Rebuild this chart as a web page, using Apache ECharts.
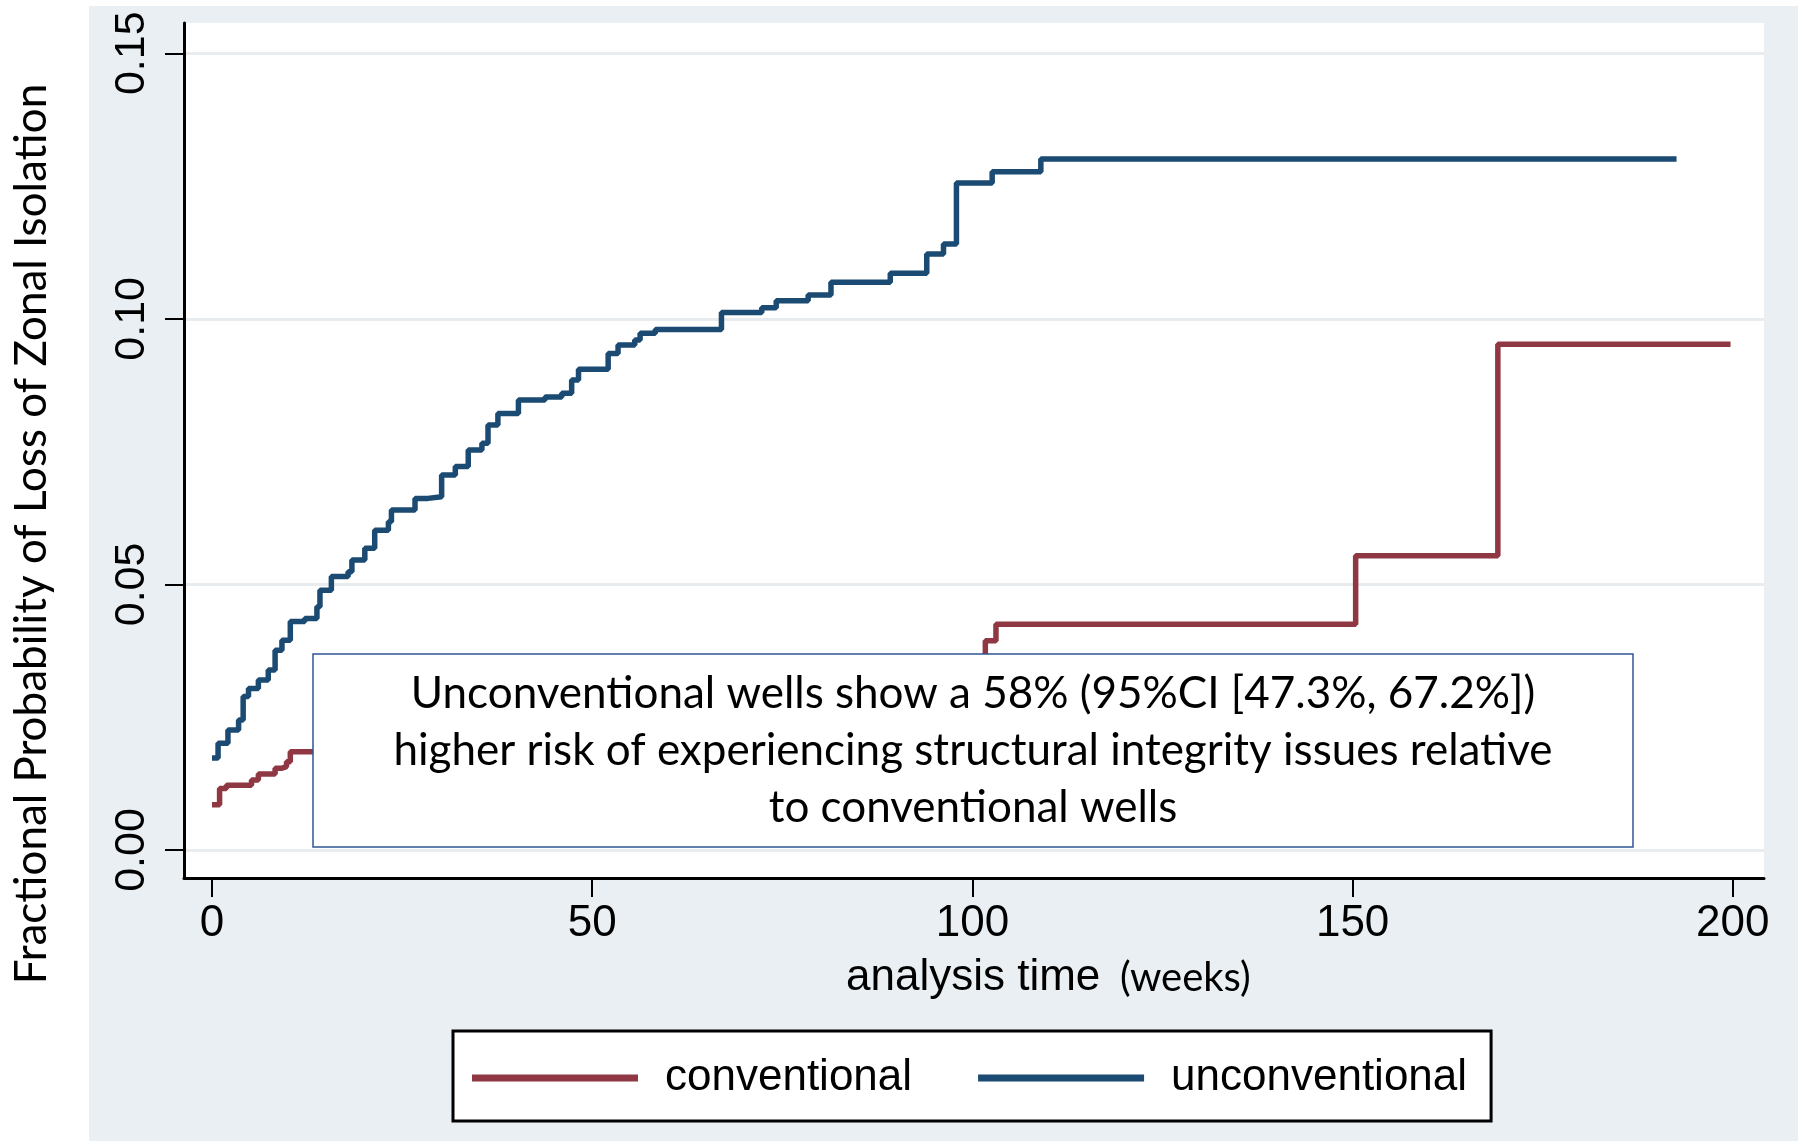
<!DOCTYPE html>
<html><head><meta charset="utf-8">
<script src="https://cdn.jsdelivr.net/npm/echarts@6/dist/echarts.min.js"></script>
<style>html,body{margin:0;padding:0;background:#fff}#c{width:1798px;height:1141px}</style>
</head><body><div id="c"></div>
<script>
const seriesNames = ['conventional', 'unconventional'];
const xTickValues = [0, 50, 100, 150, 200];
const yTickValues = [0, 0.05, 0.10, 0.15];
// [analysis time (weeks), failure probability from that time on]
const conventional = [
  [0, 0.0085], [1.0, 0.0116], [1.9, 0.0122], [5.2, 0.0132], [6.1, 0.0143], [8.3, 0.0154],
  [9.2, 0.0157], [9.8, 0.0166], [10.3, 0.0185], [101.7, 0.0394], [103.1, 0.0425],
  [150.4, 0.0554], [169.1, 0.0952], [199.7, 0.0952]
];
const unconventional = [
  [0, 0.0173], [0.8, 0.0201], [2.1, 0.0226], [3.5, 0.0245], [4.1, 0.0289], [4.8, 0.0304],
  [6.1, 0.0320], [7.4, 0.0339], [8.3, 0.0376], [9.2, 0.0395], [10.3, 0.0430], [12.2, 0.0436],
  [13.8, 0.0458], [14.2, 0.0489], [15.7, 0.0515], [17.9, 0.0524], [18.4, 0.0546], [20.1, 0.0568],
  [21.4, 0.0602], [23.2, 0.0618], [23.6, 0.0640], [26.7, 0.0662], [28.4, 0.0665], [30.2, 0.0706],
  [32.0, 0.0722], [33.7, 0.0753], [35.5, 0.0766], [36.3, 0.0800], [37.6, 0.0822], [40.3, 0.0847],
  [43.8, 0.0853], [46.0, 0.0860], [47.3, 0.0885], [48.2, 0.0905], [52.1, 0.0935], [53.4, 0.0951],
  [55.6, 0.0960], [56.3, 0.0973], [58.3, 0.0980], [67.0, 0.1012], [72.3, 0.1021], [74.2, 0.1034],
  [78.4, 0.1045], [81.4, 0.1069], [89.2, 0.1086], [94.0, 0.1122], [96.2, 0.1141], [97.9, 0.1256],
  [102.6, 0.1277], [109.0, 0.1301], [192.6, 0.1301]
];
const xAxisTitle = 'analysis time';
const xAxisUnit = '(weeks)';
const yAxisTitle = 'Fractional Probability of Loss of Zonal Isolation';
const noteLines = [
  'Unconventional wells show a 58% (95%CI [47.3%, 67.2%])',
  'higher risk of experiencing structural integrity issues relative',
  'to conventional wells'
];

const chart = echarts.init(document.getElementById('c'), null, {renderer: 'canvas'});
const RED = '#8f3843', BLUE = '#1b4a72';
const tickFont = 'Liberation Sans';
chart.setOption({
  backgroundColor: '#e9eff2',
  animation: false,
  grid: {left: 184, top: 23, width: 1580, height: 855, show: true, backgroundColor: '#ffffff', borderWidth: 0},
  xAxis: {
    type: 'value', min: -3.68, max: 204.1,
    axisLine: {onZero: false, lineStyle: {color: '#000', width: 3}},
    axisTick: {customValues: xTickValues, length: 19, lineStyle: {color: '#000', width: 2}},
    axisLabel: {customValues: xTickValues, color: '#000', fontSize: 44, fontFamily: tickFont, margin: 24},
    splitLine: {show: false}
  },
  yAxis: {
    type: 'value', min: -0.00527, max: 0.1557,
    axisLine: {onZero: false, lineStyle: {color: '#000', width: 3}},
    axisTick: {customValues: yTickValues, length: 19, lineStyle: {color: '#000', width: 2}},
    axisLabel: {customValues: yTickValues, rotate: 90, color: '#000', fontSize: 43, fontFamily: tickFont, margin: 30,
      formatter: v => v.toFixed(2)},
    splitLine: {show: true, lineStyle: {color: '#e9ecee', width: 3}}
  },
  legend: {
    data: seriesNames, left: 453, top: 1031, orient: 'horizontal',
    backgroundColor: '#fff', borderColor: '#000', borderWidth: 3,
    padding: [21, 24, 17, 19], itemGap: 66, itemWidth: 166, itemHeight: 7, icon: 'rect',
    textStyle: {color: '#000', fontSize: 44, fontFamily: tickFont, padding: [0, 0, 0, 22], lineHeight: 52}
  },
  series: [
    {name: seriesNames[0], type: 'line', step: 'end', data: conventional, showSymbol: false,
      lineStyle: {color: RED, width: 5.5}, itemStyle: {color: RED}, z: 3},
    {name: seriesNames[1], type: 'line', step: 'end', data: unconventional, showSymbol: false,
      lineStyle: {color: BLUE, width: 5.5}, itemStyle: {color: BLUE}, z: 3}
  ],
  graphic: [
    {type: 'rect', z: 1, shape: {x: 0, y: 0, width: 89, height: 1141}, style: {fill: '#fff'}},
    {type: 'rect', z: 1, shape: {x: 0, y: 0, width: 1798, height: 6}, style: {fill: '#fff'}},
    {type: 'text', z: 5, x: 32, y: 534, rotation: Math.PI / 2,
      style: {text: yAxisTitle, fontSize: 44, fontFamily: 'Lato', fill: '#000', align: 'center', verticalAlign: 'middle'}},
    {type: 'text', z: 5, x: 846, y: 978,
      style: {text: xAxisTitle, fontSize: 44, fontFamily: tickFont, fill: '#000', align: 'left', verticalAlign: 'middle'}},
    {type: 'text', z: 5, x: 1120, y: 978,
      style: {text: xAxisUnit, fontSize: 40, fontFamily: 'Lato', fill: '#000', align: 'left', verticalAlign: 'middle'}},
    {type: 'rect', z: 50, shape: {x: 313, y: 654, width: 1320, height: 193},
      style: {fill: '#fff', stroke: '#2f5597', lineWidth: 1.5}},
    {type: 'text', z: 51, x: 973, y: 751,
      style: {text: noteLines.join('\n'), fontSize: 44, fontFamily: 'Lato', fill: '#000', align: 'center', verticalAlign: 'middle', lineHeight: 57}}
  ]
});
</script>
</body></html>
